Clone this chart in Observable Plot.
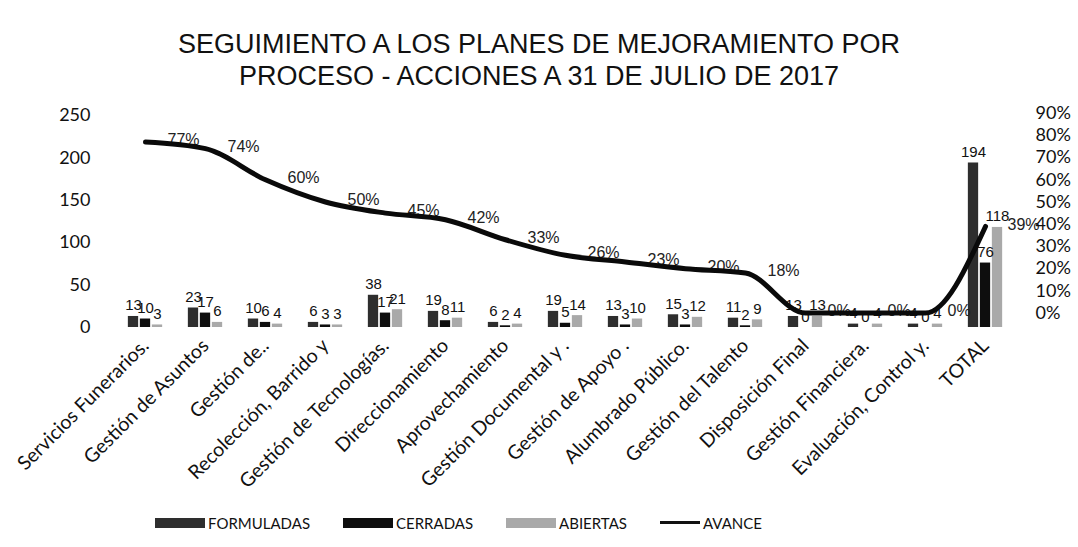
<!DOCTYPE html>
<html><head><meta charset="utf-8">
<script src="https://cdn.jsdelivr.net/npm/d3@7"></script>
<script src="https://cdn.jsdelivr.net/npm/@observablehq/plot@0.6"></script>
<style>
body{margin:0;background:#fff;width:1078px;height:547px;overflow:hidden;}
#title{height:90px;box-sizing:border-box;padding-top:28px;text-align:center;font-family:"Liberation Sans",Arial,sans-serif;font-size:27px;line-height:32px;color:#111;overflow:visible;}
#chart{height:400px;}
#legend{height:57px;box-sizing:border-box;padding-top:8px;padding-left:155px;display:flex;align-items:center;font-family:Lato,sans-serif;font-size:15px;color:#111;}
#legend .it{display:flex;align-items:center;margin-right:33px;}
#legend .sw{display:inline-block;width:50px;height:10px;margin-right:3px;}
#legend .ln{display:inline-block;width:40px;height:3px;background:#111;margin-right:3px;}
</style></head><body>
<div id="title">SEGUIMIENTO A LOS PLANES DE MEJORAMIENTO POR<br>PROCESO - ACCIONES A 31 DE JULIO DE 2017</div>
<div id="chart"></div>
<div id="legend"></div>
<script>
const categorias = ["Servicios Funerarios.", "Gestión de Asuntos", "Gestión de..", "Recolección, Barrido y", "Gestión de Tecnologías.", "Direccionamiento", "Aprovechamiento", "Gestión Documental y .", "Gestión de Apoyo .", "Alumbrado Público.", "Gestión del Talento", "Disposición Final", "Gestión Financiera.", "Evaluación, Control y.", "TOTAL"];
const formuladas = [13, 23, 10, 6, 38, 19, 6, 19, 13, 15, 11, 13, 4, 4, 194];
const cerradas   = [10, 17, 6, 3, 17, 8, 2, 5, 3, 3, 2, 0, 0, 0, 76];
const abiertas   = [3, 6, 4, 3, 21, 11, 4, 14, 10, 12, 9, 13, 4, 4, 118];
const avance     = [77, 74, 60, 50, 45, 42, 33, 26, 23, 20, 18, 0, 0, 0, 39]; // %
const ticksIzq = [0, 50, 100, 150, 200, 250];
const ticksDer = [0, 10, 20, 30, 40, 50, 60, 70, 80, 90]; // %
const nombresSeries = ["FORMULADAS", "CERRADAS", "ABIERTAS"];
const nombreLinea = "AVANCE";

// secondary (percent) axis expressed in primary units
const pctOff = 17, pctFac = 2.62;
const pctToY = p => pctOff + pctFac * p;

const valores = [formuladas, cerradas, abiertas];
const estilos = [
  {fill: "#2e2e2e", dx: -12},
  {fill: "#0e0e0e", dx: 0},
  {fill: "#a9a9a9", dx: 12}
];
const filas = valores.map(vals => categorias.map((c, i) => ({c, v: vals[i]})));
const lineaFilas = categorias.map((c, i) => ({c, p: avance[i]}));

const inset = (60.7 - 11) / 2;
const marks = [];
filas.forEach((rows, k) => {
  marks.push(Plot.barY(rows, {x: "c", y: "v", fill: estilos[k].fill, dx: estilos[k].dx, insetLeft: inset, insetRight: inset}));
});
filas.forEach((rows, k) => {
  marks.push(Plot.text(rows, {x: "c", y: "v", text: d => String(d.v), dx: estilos[k].dx, dy: -6, lineAnchor: "bottom", fontSize: 15, fontFamily: "Liberation Sans", fill: "#111"}));
});
marks.push(Plot.text(lineaFilas, {x: "c", y: d => pctToY(d.p), text: d => d.p + "%", dx: 22, dy: -2, textAnchor: "start", fontSize: 16, fontFamily: "Liberation Sans", fill: "#222"}));
marks.push(Plot.line(lineaFilas, {x: "c", y: d => pctToY(d.p), stroke: "#0a0a0a", strokeWidth: 5, curve: "monotone-x"}));
marks.push(Plot.axisY(ticksIzq, {anchor: "left", tickSize: 0, tickPadding: 19.6, fontSize: 18, fontFamily: "Lato", fill: "#111"}));
marks.push(Plot.axisY(ticksDer.map(pctToY), {anchor: "right", tickSize: 0, tickPadding: 15, textAnchor: "start", tickFormat: v => Math.round((v - pctOff) / pctFac) + "%", fontSize: 18, fontFamily: "Lato", fill: "#111"}));
marks.push(Plot.axisX({tickRotate: -45, tickSize: 0, tickPadding: 15, fontSize: 19.5, fontFamily: "Lato", fill: "#111"}));

const chart = Plot.plot({
  width: 1078, height: 400,
  marginLeft: 109.6, marginRight: 57.9, marginTop: 25, marginBottom: 163,
  style: {background: "white", color: "#111", overflow: "visible"},
  x: {domain: categorias, padding: 0, label: null},
  y: {domain: [0, 250], label: null},
  marks
});
document.getElementById("chart").appendChild(chart);

const leg = document.getElementById("legend");
nombresSeries.forEach((n, k) => {
  const it = document.createElement("span"); it.className = "it";
  const sw = document.createElement("span"); sw.className = "sw"; sw.style.background = estilos[k].fill;
  it.appendChild(sw); it.appendChild(document.createTextNode(n)); leg.appendChild(it);
});
const it = document.createElement("span"); it.className = "it";
const ln = document.createElement("span"); ln.className = "ln";
it.appendChild(ln); it.appendChild(document.createTextNode(nombreLinea)); leg.appendChild(it);
</script>
</body></html>
